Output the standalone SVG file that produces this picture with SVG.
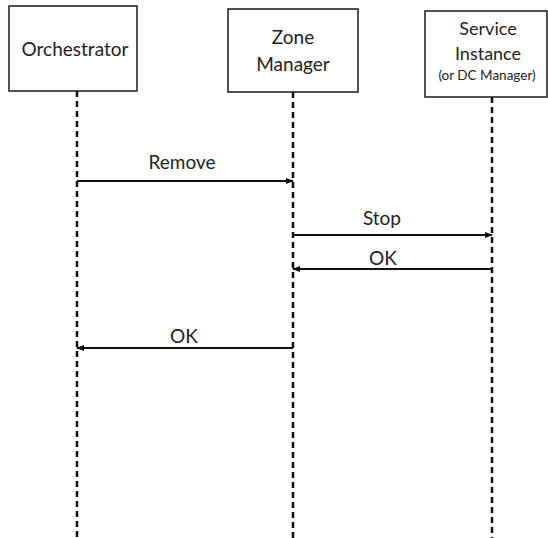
<svg xmlns="http://www.w3.org/2000/svg" width="548" height="538" viewBox="0 0 548 538">
  <style>
    .box { fill: #ffffff; stroke: #1a1a1a; stroke-width: 1.5; }
    .label { font-family: Lato, "Open Sans", "Liberation Sans", sans-serif; fill: #222222; text-anchor: middle; }
    .life { stroke: #111111; stroke-width: 2.5; stroke-dasharray: 6 4; fill: none; }
    .msg { stroke: #111111; stroke-width: 2.2; fill: none; marker-end: url(#head); }
  </style>
  <defs>
    <marker id="head" markerWidth="8" markerHeight="8" refX="7" refY="4" orient="auto" markerUnits="userSpaceOnUse">
      <path d="M0,1 L8,4 L0,7 Z" fill="#111111"/>
    </marker>
  </defs>
  <rect width="548" height="538" fill="#ffffff"/>

  <g id="connectors">
    <line class="life" x1="77" y1="91" x2="77" y2="538"/>
    <line class="life" x1="293" y1="92" x2="293" y2="538"/>
    <line class="life" x1="492" y1="97" x2="492" y2="538"/>

    <line class="msg" x1="77" y1="181" x2="293" y2="181"/>
    <text class="label" x="182" y="169" font-size="19">Remove</text>

    <line class="msg" x1="293" y1="235" x2="492" y2="235"/>
    <text class="label" x="382" y="225" font-size="19">Stop</text>

    <line class="msg" x1="492" y1="269" x2="293" y2="269"/>
    <text class="label" x="383" y="265" font-size="19">OK</text>

    <line class="msg" x1="293" y1="348" x2="77" y2="348"/>
    <text class="label" x="184" y="343" font-size="19">OK</text>
  </g>

  <g id="orchestrator">
    <rect class="box" x="9" y="6" width="128" height="85"/>
    <text class="label" x="75" y="56" font-size="19">Orchestrator</text>
  </g>

  <g id="zone-manager">
    <rect class="box" x="228" y="9" width="130" height="83"/>
    <text class="label" x="293" y="44" font-size="19">Zone</text>
    <text class="label" x="293" y="71" font-size="19">Manager</text>
  </g>

  <g id="service-instance">
    <rect class="box" x="425" y="11" width="122" height="86"/>
    <text class="label" x="488" y="35" font-size="18">Service</text>
    <text class="label" x="488" y="60" font-size="18">Instance</text>
    <text class="label" x="487" y="80" font-size="13.5">(or DC Manager)</text>
  </g>
</svg>
